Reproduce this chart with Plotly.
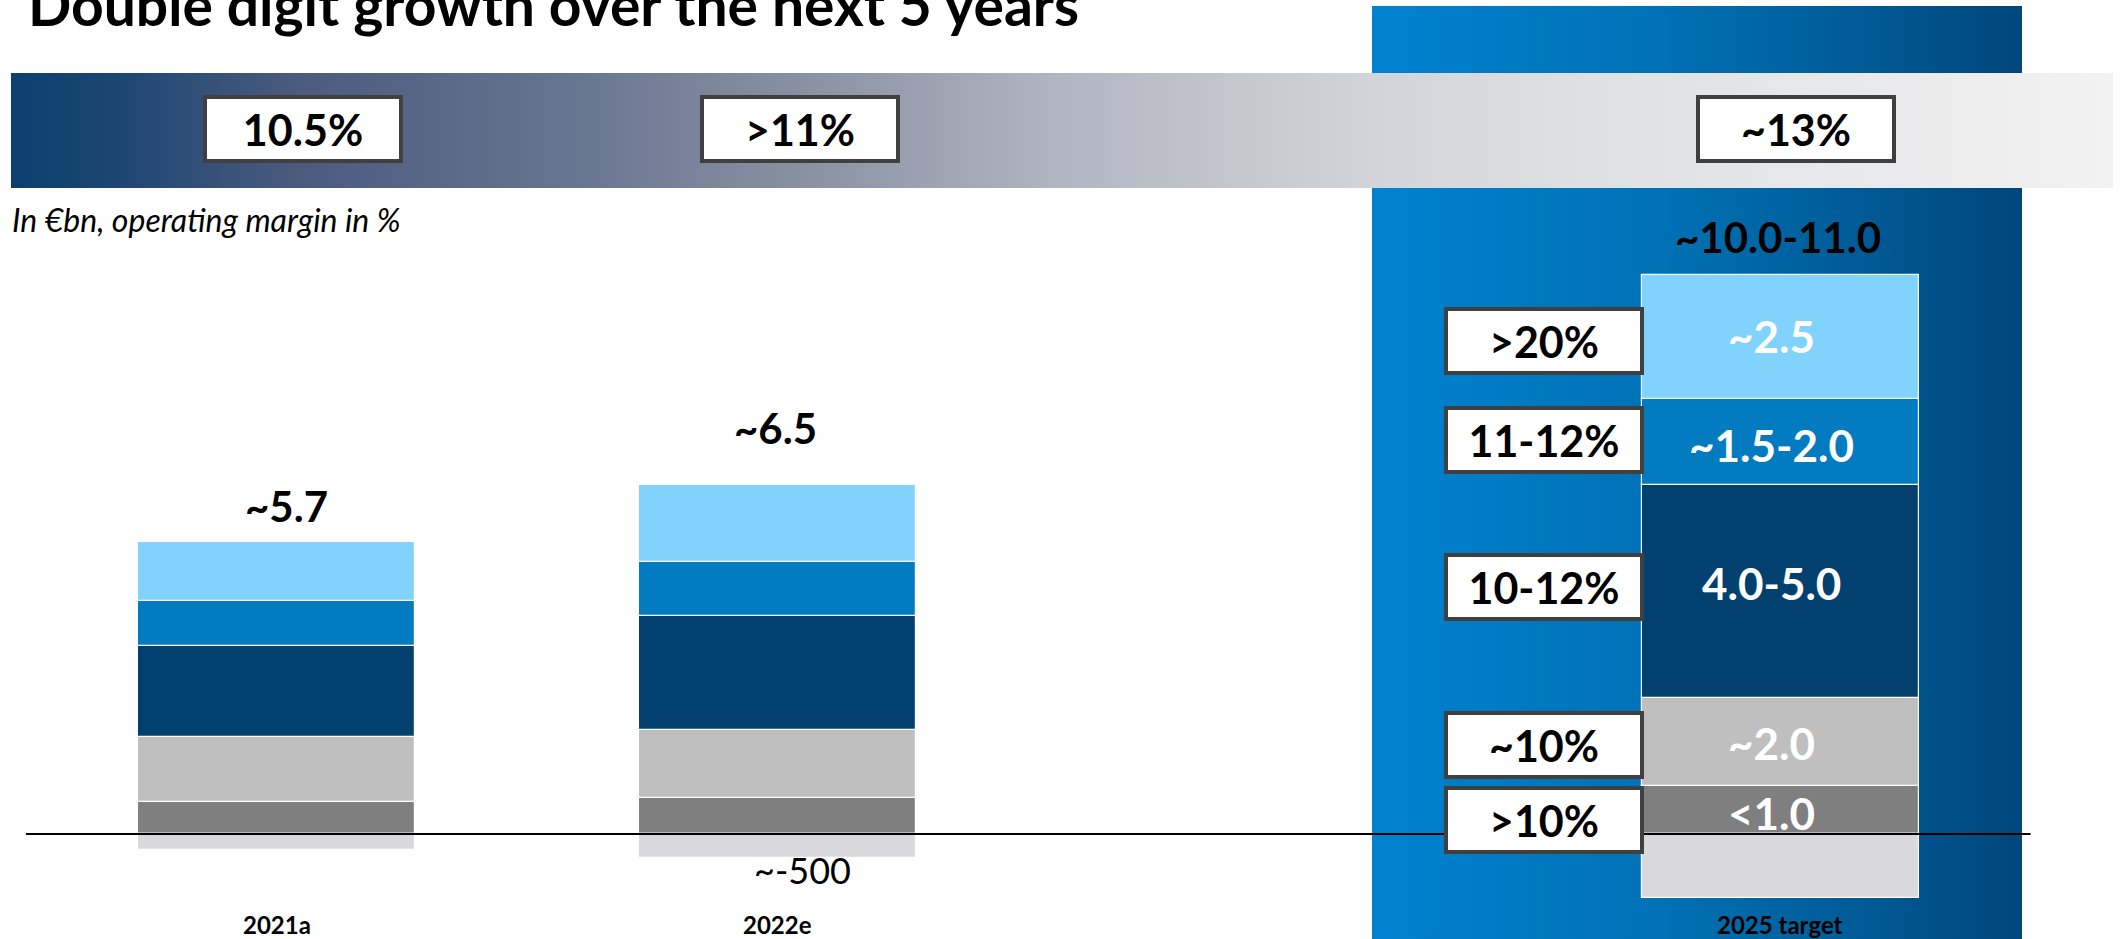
import plotly.graph_objects as go

W, H = 2122, 939

# ---------------- data ----------------
categories = ["2021a", "2022e", "2025 target"]
cat_pos = [0, 1, 3]

# stacked segments, bottom to top (in EUR bn)
darkgray_vals = [0.67, 0.74, 0.98]
gray_vals = [1.33, 1.41, 1.83]
navy_vals = [1.87, 2.34, 4.38]
blue_vals = [0.93, 1.11, 1.78]
lightblue_vals = [1.22, 1.60, 2.55]
negative_vals = [-0.33, -0.50, -1.31]

total_labels = ["~5.7", "~6.5", "~10.0-11.0"]
margin_labels = ["10.5%", ">11%", "~13%"]
target_value_labels = ["<1.0", "~2.0", "4.0-5.0", "~1.5-2.0", "~2.5"]      # bottom -> top
target_margin_labels = [">10%", "~10%", "10-12%", "11-12%", ">20%"]       # bottom -> top
negative_note = "~-500"
title_text = "Double digit growth over the next 5 years"
subtitle_text = "In €bn, operating margin in %"

# ---------------- style / geometry ----------------
FONT = "Lato"
C_DARKGRAY = "#7f7f7f"
C_GRAY = "#bfbfbf"
C_NAVY = "#01406f"
C_BLUE = "#027bc0"
C_LIGHTBLUE = "#81d3fe"
C_NEG = "#d9d9dc"

X_ORIGIN_PX, X_PX_PER_UNIT = 276.5, 501.17
Y_ZERO_PX, Y_PX_PER_UNIT = 834.0, 48.5
BAR_WIDTH = 277 / X_PX_PER_UNIT


def dx(px):
    return (px - X_ORIGIN_PX) / X_PX_PER_UNIT


def dy(py):
    return (Y_ZERO_PX - py) / Y_PX_PER_UNIT


xr = [dx(0), dx(W)]
yr = [dy(H), dy(0)]

fig = go.Figure()

# ---- background decoration (main axes, drawn below bars) ----
panel_x0, panel_x1 = dx(1372), dx(2022)
panel_y0, panel_y1 = dy(H + 20), dy(6)
fig.add_trace(go.Scatter(
    x=[panel_x0, panel_x1, panel_x1, panel_x0, panel_x0],
    y=[panel_y0, panel_y0, panel_y1, panel_y1, panel_y0],
    mode="lines", line=dict(width=0), fill="toself",
    fillgradient=dict(type="horizontal",
                      colorscale=[[0, "#0082d0"], [0.45, "#0071b5"],
                                  [0.78, "#005893"], [1, "#00467a"]]),
    hoverinfo="skip", showlegend=False, xaxis="x", yaxis="y"))

band_x0, band_x1 = dx(11), dx(2113)
band_y0, band_y1 = dy(188), dy(73)
fig.add_trace(go.Scatter(
    x=[band_x0, band_x1, band_x1, band_x0, band_x0],
    y=[band_y0, band_y0, band_y1, band_y1, band_y0],
    mode="lines", line=dict(width=0), fill="toself",
    fillgradient=dict(type="horizontal",
                      colorscale=[[0, "#0c406f"], [0.05, "#1c4672"], [0.133, "#4a5a7e"],
                                  [0.247, "#63718d"], [0.375, "#8890a2"], [0.5, "#b2b6c1"],
                                  [0.647, "#d2d4d9"], [0.751, "#dfe0e3"], [1, "#f2f2f2"]]),
    hoverinfo="skip", showlegend=False, xaxis="x", yaxis="y"))

# ---- bars (overlay axes, drawn above background) ----
series = [
    (darkgray_vals, C_DARKGRAY),
    (gray_vals, C_GRAY),
    (navy_vals, C_NAVY),
    (blue_vals, C_BLUE),
    (lightblue_vals, C_LIGHTBLUE),
    (negative_vals, C_NEG),
]
for vals, col in series:
    fig.add_trace(go.Bar(
        x=cat_pos, y=vals, width=BAR_WIDTH,
        marker=dict(color=col, line=dict(color="white", width=1.2)),
        hoverinfo="skip", showlegend=False, xaxis="x2", yaxis="y2"))

ann = []

# totals above bars
pos_tops = [a + b + c + d + e for a, b, c, d, e in
            zip(darkgray_vals, gray_vals, navy_vals, blue_vals, lightblue_vals)]
total_dy_px = [36, 57, 38]
total_dx_px = [10, -2, -2]
for i, lab in enumerate(total_labels):
    ann.append(dict(x=cat_pos[i] + total_dx_px[i] / X_PX_PER_UNIT,
                    y=pos_tops[i] + total_dy_px[i] / Y_PX_PER_UNIT,
                    xref="x2", yref="y2", text=lab, showarrow=False,
                    font=dict(family=FONT, size=42, color="black", weight="bold"),
                    xanchor="center", yanchor="middle"))

# category labels
for i, lab in enumerate(categories):
    ann.append(dict(x=cat_pos[i], y=dy(924), xref="x2", yref="y2", text=lab,
                    showarrow=False,
                    font=dict(family=FONT, size=24, color="black", weight="bold"),
                    xanchor="center", yanchor="middle"))

# negative note
ann.append(dict(x=cat_pos[1] + 25 / X_PX_PER_UNIT, y=dy(870), xref="x2", yref="y2",
                text=negative_note, showarrow=False,
                font=dict(family=FONT, size=36, color="black"),
                xanchor="center", yanchor="middle"))

# values inside the 2025 target bar
t_segs = [darkgray_vals[2], gray_vals[2], navy_vals[2], blue_vals[2], lightblue_vals[2]]
cum = 0
mids = []
for v in t_segs:
    mids.append(cum + v / 2)
    cum += v
val_nudge_px = [3, 1, -9, 3, -1]
for lab, m, nd in zip(target_value_labels, mids, val_nudge_px):
    ann.append(dict(x=cat_pos[2] - 9 / X_PX_PER_UNIT, y=m - nd / Y_PX_PER_UNIT,
                    xref="x2", yref="y2", text=lab, showarrow=False,
                    font=dict(family=FONT, size=44, color="white", weight="bold"),
                    xanchor="center", yanchor="middle"))

box_style = dict(showarrow=False, bgcolor="white", bordercolor="#404040",
                 borderwidth=4, borderpad=0, width=192, height=60,
                 align="center", valign="middle",
                 font=dict(family=FONT, size=43, color="black", weight="bold"),
                 xanchor="center", yanchor="middle")

# margin boxes next to 2025 target bar
box_nudge_px = [10, 3, -5, -2, 4]
for lab, m, nd in zip(target_margin_labels, mids, box_nudge_px):
    ann.append(dict(x=dx(1544), y=m - nd / Y_PX_PER_UNIT, xref="x2", yref="y2",
                    text=lab, **box_style))

# margin boxes in the band
band_box_px = [303, 800, 1796]
for lab, px in zip(margin_labels, band_box_px):
    ann.append(dict(x=dx(px), y=dy(129), xref="x2", yref="y2", text=lab, **box_style))

# title & subtitle
ann.append(dict(x=dx(26), y=dy(4), xref="x2", yref="y2", text=title_text,
                showarrow=False, xanchor="left", yanchor="middle",
                font=dict(family=FONT, size=57, color="black", weight="bold")))
ann.append(dict(x=dx(10), y=dy(219), xref="x2", yref="y2", text=subtitle_text,
                showarrow=False, xanchor="left", yanchor="middle",
                font=dict(family=FONT, size=32, color="black", style="italic")))

fig.update_layout(
    width=W, height=H,
    margin=dict(l=0, r=0, t=0, b=0, pad=0),
    paper_bgcolor="white", plot_bgcolor="white",
    barmode="relative", bargap=0,
    xaxis=dict(range=xr, visible=False, fixedrange=True),
    yaxis=dict(range=yr, visible=False, fixedrange=True),
    xaxis2=dict(range=xr, visible=False, overlaying="x", fixedrange=True),
    yaxis2=dict(range=yr, visible=False, overlaying="y", fixedrange=True),
    annotations=ann,
    shapes=[dict(type="line", xref="x2", yref="y2", x0=-0.5, x1=3.5, y0=0, y1=0,
                 line=dict(color="black", width=2), layer="above")],
    showlegend=False,
)

fig.write_html(
    "out.html",
    config={"displayModeBar": False},
    post_script="document.body.style.margin='0';document.body.style.overflow='hidden';",
)
